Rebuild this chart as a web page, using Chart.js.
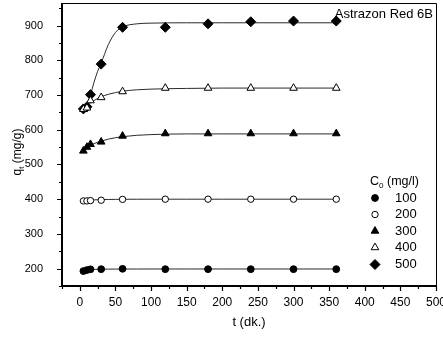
<!DOCTYPE html>
<html>
<head>
<meta charset="utf-8">
<script src="https://cdn.jsdelivr.net/npm/chart.js@4/dist/chart.umd.min.js"></script>
<style>
  html, body { margin: 0; padding: 0; background: #fff; }
  canvas { display: block; }
</style>
</head>
<body>
<canvas id="c" width="443" height="337"></canvas>
<script>
// Contact times (min) at which adsorbed amount was measured
const times = [5, 10, 15, 30, 60, 120, 180, 240, 300, 360];

// Measured q_t (mg/g) for each initial concentration C0 (mg/l)
const q100 = [193, 196, 198, 198.5, 199.5, 198.5, 198.5, 198.5, 198.5, 198.5];
const q200 = [395, 395, 396, 397, 399.5, 400, 400, 400, 400, 400];
const q300 = [539, 550, 558, 565, 582, 589, 589, 589, 589, 589];
const q400 = [659, 663, 684, 693, 710, 720, 720, 720, 720, 720];
const q500 = [660, 666, 701, 789, 895, 895, 905, 911, 913, 913];

// Kinetic model curves (q_t vs t)
const fitTimes = [5, 10, 15, 20, 25, 30, 40, 50, 60, 80, 100, 150, 200, 360];
const fit100 = [193, 195.5, 197, 197.8, 198.2, 198.4, 198.6, 198.7, 198.8, 198.9, 199, 199, 199, 199];
const fit200 = [395, 396.5, 397.5, 398, 398.5, 398.8, 399.2, 399.5, 399.7, 399.9, 400, 400, 400, 400];
const fit300 = [540, 549, 555, 560, 564, 567, 573, 577, 580, 584, 586, 588, 588, 588];
const fit400 = [657, 667, 677, 684, 690, 695, 702, 707, 711, 715, 717, 719, 720, 720];
const fit500 = [655, 668, 700, 737, 768, 792, 845, 880, 896, 905, 907, 908, 908, 908];

// Legend entries
const concLabels = ['100', '200', '300', '400', '500'];

// Axis ticks
const xTickLabels = [0, 50, 100, 150, 200, 250, 300, 350, 400, 450, 500];
const xMinorTicks = [-25, 25, 75, 125, 175, 225, 275, 325, 375, 425, 475];
const yTickLabels = [200, 300, 400, 500, 600, 700, 800, 900];
const yMinorTicks = [150, 250, 350, 450, 550, 650, 750, 850, 950];

const FONT = '"Liberation Sans", Arial, Helvetica, sans-serif';

const toPts = (xs, ys) => xs.map((x, i) => ({ x: x, y: ys[i] }));

const markerStyles = [
  { pointStyle: 'circle',   radius: 3.4, fill: '#000', stroke: '#000' },
  { pointStyle: 'circle',   radius: 3.2, fill: '#fff', stroke: '#000' },
  { pointStyle: 'triangle', radius: 4.4, fill: '#000', stroke: '#000' },
  { pointStyle: 'triangle', radius: 4.4, fill: '#fff', stroke: '#000' },
  { pointStyle: 'rectRot',  radius: 5,   fill: '#000', stroke: '#000' }
];

const measured = [q100, q200, q300, q400, q500];
const fits = [fit100, fit200, fit300, fit400, fit500];

const datasets = [];
fits.forEach((f, i) => {
  datasets.push({
    label: 'fit ' + concLabels[i],
    data: toPts(fitTimes, f),
    showLine: true,
    cubicInterpolationMode: 'monotone',
    borderColor: '#2a2a2a',
    borderWidth: 1,
    pointRadius: 0,
    pointHoverRadius: 0,
    order: 2
  });
});
measured.forEach((m, i) => {
  const s = markerStyles[i];
  datasets.push({
    label: concLabels[i],
    data: toPts(times, m),
    showLine: false,
    pointStyle: s.pointStyle,
    pointRadius: s.radius,
    pointHoverRadius: s.radius,
    pointBackgroundColor: s.fill,
    pointBorderColor: s.stroke,
    pointBorderWidth: 1,
    order: 1
  });
});

// Draws text with a subscript part: [base, sub, rest]
function drawSubText(ctx, x, y, base, sub, rest, size) {
  ctx.font = size + 'px ' + FONT;
  ctx.fillText(base, x, y);
  let w = ctx.measureText(base).width;
  ctx.font = (size * 0.65) + 'px ' + FONT;
  ctx.fillText(sub, x + w, y + size * 0.3);
  w += ctx.measureText(sub).width;
  ctx.font = size + 'px ' + FONT;
  ctx.fillText(rest, x + w, y);
}
function subTextWidth(ctx, base, sub, rest, size) {
  ctx.font = size + 'px ' + FONT;
  let w = ctx.measureText(base).width + ctx.measureText(rest).width;
  ctx.font = (size * 0.65) + 'px ' + FONT;
  return w + ctx.measureText(sub).width;
}

const framePlugin = {
  id: 'frame',
  afterDraw(chart) {
    const ctx = chart.ctx;
    const xs = chart.scales.x, ys = chart.scales.y;
    const a = chart.chartArea;
    ctx.save();
    ctx.strokeStyle = '#000';
    ctx.fillStyle = '#000';

    // top and right border
    ctx.lineWidth = 1;
    ctx.beginPath();
    ctx.moveTo(a.left, a.top + 0.5);
    ctx.lineTo(a.right + 0.5, a.top + 0.5);
    ctx.lineTo(a.right + 0.5, a.bottom);
    ctx.stroke();

    // left and bottom axes
    ctx.lineWidth = 2;
    ctx.beginPath();
    ctx.moveTo(a.left, a.top);
    ctx.lineTo(a.left, a.bottom);
    ctx.lineTo(a.right + 1, a.bottom);
    ctx.stroke();

    // tick marks
    ctx.lineWidth = 1.2;
    ctx.beginPath();
    xTickLabels.forEach(v => {
      const px = Math.round(xs.getPixelForValue(v)) + 0.5;
      ctx.moveTo(px, a.bottom); ctx.lineTo(px, a.bottom + 5);
    });
    xMinorTicks.forEach(v => {
      const px = Math.round(xs.getPixelForValue(v)) + 0.5;
      ctx.moveTo(px, a.bottom); ctx.lineTo(px, a.bottom + 3);
    });
    yTickLabels.forEach(v => {
      const py = Math.round(ys.getPixelForValue(v)) + 0.5;
      ctx.moveTo(a.left, py); ctx.lineTo(a.left - 5, py);
    });
    yMinorTicks.forEach(v => {
      const py = Math.round(ys.getPixelForValue(v)) + 0.5;
      ctx.moveTo(a.left, py); ctx.lineTo(a.left - 3, py);
    });
    ctx.stroke();

    // chart title
    ctx.textBaseline = 'middle';
    ctx.textAlign = 'right';
    ctx.font = '13px ' + FONT;
    ctx.fillText('Astrazon Red 6B', a.right - 3, 14);

    // x axis title
    ctx.textAlign = 'center';
    ctx.font = '13px ' + FONT;
    ctx.fillText('t (dk.)', 249, 322);

    // y axis title (rotated, with subscript t)
    ctx.save();
    ctx.translate(18, 152);
    ctx.rotate(-Math.PI / 2);
    ctx.textAlign = 'left';
    const tw = subTextWidth(ctx, 'q', 't', ' (mg/g)', 12);
    drawSubText(ctx, -tw / 2, 0, 'q', 't', ' (mg/g)', 12);
    ctx.restore();

    // legend
    ctx.textAlign = 'left';
    drawSubText(ctx, 370, 182, 'C', '0', ' (mg/l)', 12.5);
    const rowY = [198, 214.5, 231, 247.5, 264.5];
    concLabels.forEach((lab, i) => {
      const s = markerStyles[i];
      ctx.fillStyle = s.fill;
      ctx.strokeStyle = s.stroke;
      ctx.lineWidth = 1;
      Chart.helpers.drawPoint(ctx, { pointStyle: s.pointStyle, radius: s.radius, rotation: 0, borderWidth: 1 }, 375, rowY[i]);
      ctx.fillStyle = '#000';
      ctx.font = '13px ' + FONT;
      ctx.fillText(lab, 395, rowY[i]);
    });
    ctx.restore();
  }
};

new Chart(document.getElementById('c'), {
  type: 'scatter',
  data: { datasets: datasets },
  options: {
    responsive: false,
    animation: false,
    devicePixelRatio: 1,
    layout: { padding: { left: 0, top: 3, right: 7, bottom: 0 }, autoPadding: false },
    plugins: { legend: { display: false }, tooltip: { enabled: false } },
    scales: {
      x: {
        type: 'linear',
        min: -25,
        max: 500,
        grid: { display: false },
        border: { display: false },
        ticks: { color: '#000', font: { family: FONT, size: 12 }, padding: 1, maxRotation: 0 },
        afterBuildTicks: s => { s.ticks = xTickLabels.map(v => ({ value: v })); },
        afterFit: s => { s.height = 51; s.paddingLeft = 0; s.paddingRight = 0; }
      },
      y: {
        type: 'linear',
        min: 150,
        max: 965,
        grid: { display: false },
        border: { display: false },
        ticks: { color: '#000', font: { family: FONT, size: 11 }, padding: 11 },
        afterBuildTicks: s => { s.ticks = yTickLabels.map(v => ({ value: v })); },
        afterFit: s => { s.width = 62; s.paddingTop = 0; s.paddingBottom = 0; }
      }
    }
  },
  plugins: [framePlugin]
});
</script>
</body>
</html>
